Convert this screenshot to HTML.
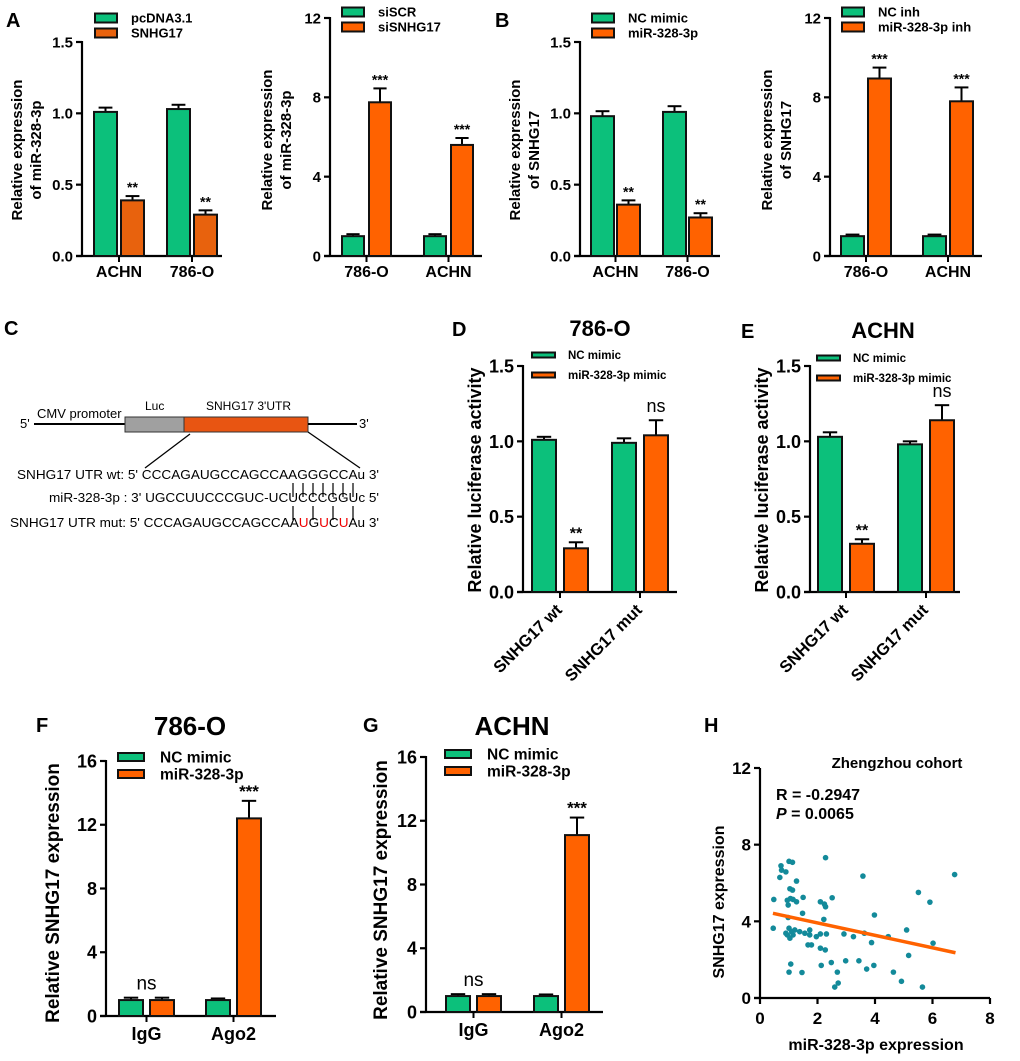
<!DOCTYPE html>
<html><head><meta charset="utf-8"><style>
body{margin:0;background:#fff}
svg{display:block;font-family:"Liberation Sans",Arial,sans-serif}
</style></head><body>
<svg id="fig" width="1020" height="1061" viewBox="0 0 1020 1061">
<g font-weight="bold" font-size="20">
<text x="6" y="27">A</text><text x="495" y="27">B</text><text x="4" y="335">C</text>
<text x="452" y="336">D</text><text x="741" y="338">E</text><text x="36" y="732">F</text>
<text x="363" y="732">G</text><text x="704" y="732">H</text>
</g>
<g id="panelC" font-size="12.5">
<text x="20" y="428" font-size="13">5'</text>
<line x1="34" y1="424" x2="125" y2="424" stroke="#000" stroke-width="2"/>
<text x="37" y="418" font-size="13">CMV promoter</text>
<rect x="125" y="417" width="59" height="15" fill="#a0a0a0" stroke="#333" stroke-width="1"/>
<rect x="184" y="417" width="124" height="15" fill="#e85512" stroke="#333" stroke-width="1"/>
<text x="145" y="410" font-size="12">Luc</text>
<text x="206" y="410" font-size="12">SNHG17 3'UTR</text>
<line x1="308" y1="424" x2="357" y2="424" stroke="#000" stroke-width="2"/>
<text x="359" y="428" font-size="13">3'</text>
<line x1="190" y1="434" x2="145" y2="468" stroke="#000" stroke-width="1.3"/>
<line x1="308" y1="432" x2="360" y2="468" stroke="#000" stroke-width="1.3"/>
<text x="17" y="479" textLength="362" lengthAdjust="spacingAndGlyphs">SNHG17 UTR wt: 5' CCCAGAUGCCAGCCAAGGGCCAu 3'</text>
<text x="49" y="502" textLength="330" lengthAdjust="spacingAndGlyphs">miR-328-3p : 3' UGCCUUCCCGUC-UCUCCCGGUc 5'</text>
<text x="10" y="527" textLength="369" lengthAdjust="spacingAndGlyphs">SNHG17 UTR mut: 5' CCCAGAUGCCAGCCAA<tspan fill="#e00">U</tspan>G<tspan fill="#e00">U</tspan>C<tspan fill="#e00">U</tspan>Au 3'</text>
<g stroke="#000" stroke-width="1.2">
<line x1="293" y1="483" x2="293" y2="497"/><line x1="303" y1="483" x2="303" y2="497"/><line x1="313" y1="483" x2="313" y2="497"/><line x1="323" y1="483" x2="323" y2="497"/><line x1="333" y1="483" x2="333" y2="497"/><line x1="343" y1="483" x2="343" y2="497"/><line x1="353" y1="483" x2="353" y2="497"/>
<line x1="293" y1="506" x2="293" y2="520"/><line x1="313" y1="506" x2="313" y2="520"/><line x1="333" y1="506" x2="333" y2="520"/><line x1="353" y1="506" x2="353" y2="520"/>
</g>
</g>
</svg>
<script>
// ---- data ----
const aCats=["ACHN","786-O"], aCtrl=[1.01,1.03], aTrt=[0.39,0.29], aCtrlErr=[0.03,0.03], aTrtErr=[0.03,0.03], aSig=["**","**"];
const a2Cats=["786-O","ACHN"], a2Ctrl=[1.0,1.0], a2Trt=[7.75,5.6], a2CtrlErr=[0.1,0.1], a2TrtErr=[0.7,0.35], a2Sig=["***","***"];
const bCats=["ACHN","786-O"], bCtrl=[0.98,1.01], bTrt=[0.36,0.27], bCtrlErr=[0.035,0.04], bTrtErr=[0.03,0.03], bSig=["**","**"];
const b2Cats=["786-O","ACHN"], b2Ctrl=[1.0,1.0], b2Trt=[8.95,7.8], b2CtrlErr=[0.08,0.08], b2TrtErr=[0.55,0.7], b2Sig=["***","***"];
const dCats=["SNHG17 wt","SNHG17 mut"], dCtrl=[1.01,0.99], dTrt=[0.29,1.04], dCtrlErr=[0.02,0.03], dTrtErr=[0.04,0.1], dSig=["**","ns"];
const eCats=["SNHG17 wt","SNHG17 mut"], eCtrl=[1.03,0.98], eTrt=[0.32,1.14], eCtrlErr=[0.03,0.02], eTrtErr=[0.03,0.1], eSig=["**","ns"];
const fCats=["IgG","Ago2"], fCtrl=[1.0,1.0], fTrt=[1.0,12.4], fCtrlErr=[0.15,0.1], fTrtErr=[0.15,1.1], fSig=["ns","***"];
const gCats=["IgG","Ago2"], gCtrl=[1.0,1.0], gTrt=[1.0,11.1], gCtrlErr=[0.12,0.1], gTrtErr=[0.12,1.1], gSig=["ns","***"];
const ticks15=["0.0","0.5","1.0","1.5"], ticks12=["0","4","8","12"], ticks16=["0","4","8","12","16"];
const hX=[0.46,0.48,0.73,0.75,0.69,0.9,1.01,1.13,1.27,1.04,1.13,0.95,1.06,1.15,0.98,1.27,1.5,1.48,0.98,0.95,1.04,1.1,1.21,1.38,0.9,1.01,1.15,1.56,1.73,1.73,1.67,1.79,1.96,2.1,2.31,2.1,2.24,2.28,2.22,2.28,2.51,2.1,2.27,2.13,2.48,1.07,1.01,1.46,2.69,2.6,2.72,2.98,2.92,3.25,3.44,3.58,3.63,3.71,3.88,3.98,3.96,4.46,4.64,4.92,5.1,5.17,5.51,5.65,5.91,6.02,6.77];
const hY=[3.64,5.14,6.9,6.67,6.29,6.58,7.13,7.08,6.1,5.7,5.63,5.1,5.19,5.14,4.85,5.02,5.25,4.42,4.2,3.29,3.12,3.46,3.55,3.46,3.38,3.64,3.29,3.38,3.55,3.29,2.77,2.77,3.2,3.34,3.34,5.02,4.9,4.76,4.1,7.32,5.23,2.6,2.51,1.7,1.85,1.77,1.35,1.33,1.35,0.57,0.78,1.94,3.34,3.2,1.94,6.36,3.38,1.51,2.89,4.33,1.7,3.2,1.35,0.87,3.55,2.22,5.51,0.57,5.0,2.86,6.44];
const hLineX=[0.45,6.8], hLineY=[4.42,2.36];
const hTicksX=["0","2","4","6","8"], hTicksY=["0","4","8","12"];

const NS="http://www.w3.org/2000/svg", svg=document.getElementById('fig');
function mk(tag,attrs,parent,txt){const e=document.createElementNS(NS,tag);for(const k in attrs)e.setAttribute(k,attrs[k]);if(txt!==undefined)e.textContent=txt;(parent||svg).appendChild(e);return e;}

function barPanel(P,cats,ctrl,trt,ctrlErr,trtErr,sig,ticks){
  const g=mk('g',{});
  
  
  const ys=v=>P.y0-(v/P.max)*(P.y0-P.yTop);
  const ya=mk('line',{x1:P.ax,y1:P.yTop-1,x2:P.ax,y2:P.y0,stroke:'#000','stroke-width':2.2},g);
  
  
  const xa=mk('line',{x1:P.ax-6,y1:P.y0,x2:P.xEnd,y2:P.y0,stroke:'#000','stroke-width':2.2},g);
  
  
  ticks.forEach((t,i)=>{const v=P.max*i/(ticks.length-1),y=ys(v);
    mk('line',{x1:P.ax-6,y1:y,x2:P.ax,y2:y,stroke:'#000','stroke-width':2.2},g);
    const tl=mk('text',{x:P.ax-9,y:y+P.tf*0.36,'text-anchor':'end','font-size':P.tf,'font-weight':'bold'},g,t);
    
    });
  cats.forEach((c,i)=>{
    const gx=P.x0+i*P.gs, cx=gx+(P.gap+P.bw)/2;
    [[ctrl[i],ctrlErr[i],P.c1,gx],[trt[i],trtErr[i],P.c2,gx+P.gap]].forEach((b,j)=>{
      const y=ys(b[0]),ye=ys(b[0]+b[1]),mx=b[3]+P.bw/2;
      mk('line',{x1:mx,y1:ye,x2:mx,y2:y,stroke:'#000','stroke-width':2},g);
      mk('line',{x1:mx-P.bw*0.3,y1:ye,x2:mx+P.bw*0.3,y2:ye,stroke:'#000','stroke-width':2},g);
      const r=mk('rect',{x:b[3],y:y,width:P.bw,height:P.y0-y,fill:b[2],stroke:'#111','stroke-width':2},g);
      
      
    });
    const isNsG=sig[i]==='ns'&&P.nsOnGroup;
    const mxs=isNsG?cx:gx+P.gap+P.bw/2;
    const tp=isNsG?Math.max(ctrl[i]+ctrlErr[i],trt[i]+trtErr[i]):trt[i]+trtErr[i];
    const st=mk('text',{x:mxs,y:ys(tp)-(sig[i]==='ns'?8:4),'text-anchor':'middle','font-size':sig[i]==='ns'?P.nsf:P.sf,'font-weight':sig[i]==='ns'?'normal':'bold'},g,sig[i]);
    
    
    mk('line',{x1:cx,y1:P.y0,x2:cx,y2:P.y0+6,stroke:'#000','stroke-width':2},g);
    let cl;
    if(P.rot){cl=mk('text',{x:cx+3,y:P.y0+19,'text-anchor':'end','font-size':P.cf,'font-weight':'bold',transform:`rotate(-45 ${cx+3} ${P.y0+19})`},g,c);}
    else cl=mk('text',{x:cx,y:P.y0+P.cf+P.cgap,'text-anchor':'middle','font-size':P.cf,'font-weight':'bold'},g,c);
    
    
  });
  P.yt.forEach((t,k)=>{const x=P.ytx+k*P.ytf*1.25;
    const yt=mk('text',{x:x,y:P.ytc,'text-anchor':'middle','font-size':P.ytf,'font-weight':'bold',transform:`rotate(-90 ${x} ${P.ytc})`},g,t);
    
    });
  P.leg.forEach((t,k)=>{const y=P.ly+k*P.lsp;
    const lg=mk('g',{},g);
    
    
    mk('rect',{x:P.lx,y:y-P.lh/2,width:P.lw,height:P.lh,fill:k?P.c2:P.c1,stroke:'#111','stroke-width':2},lg);
    mk('text',{x:P.lx+P.lw+P.ltg,y:y+P.lf*0.36,'font-size':P.lf,'font-weight':'bold'},lg,t);});
  if(P.title){const tt=mk('text',{x:P.tx,y:P.ty,'text-anchor':'middle','font-size':P.ttf,'font-weight':'bold'},g,P.title);
    
    }
}
const G='#0cc07b',O='#ff6200',O2='#e8620d';
const topCfg={y0:256,tf:15,cf:16,cgap:5,sf:14,nsf:16,ytf:15,lf:13,lh:9,lw:22,ltg:14,lsp:15};
barPanel({...topCfg,name:'panel-a-left',ax:82,yTop:42,max:1.5,xEnd:222,x0:94,bw:23,gap:27,gs:73,c1:G,c2:O2,yt:['Relative expression','of miR-328-3p'],ytx:22,ytc:150,leg:['pcDNA3.1','SNHG17'],lx:95,ly:18},aCats,aCtrl,aTrt,aCtrlErr,aTrtErr,aSig,ticks15);
barPanel({...topCfg,name:'panel-a-right',ax:330,yTop:18,max:12,xEnd:482,x0:342,bw:22,gap:27,gs:82,c1:G,c2:O,yt:['Relative expression','of miR-328-3p'],ytx:272,ytc:140,leg:['siSCR','siSNHG17'],lx:342,ly:12},a2Cats,a2Ctrl,a2Trt,a2CtrlErr,a2TrtErr,a2Sig,ticks12);
barPanel({...topCfg,name:'panel-b-left',ax:580,yTop:42,max:1.5,xEnd:720,x0:591,bw:23,gap:26,gs:72,c1:G,c2:O,yt:['Relative expression','of SNHG17'],ytx:520,ytc:150,leg:['NC mimic','miR-328-3p'],lx:592,ly:18},bCats,bCtrl,bTrt,bCtrlErr,bTrtErr,bSig,ticks15);
barPanel({...topCfg,name:'panel-b-right',ax:830,yTop:18,max:12,xEnd:982,x0:841,bw:23,gap:27,gs:82,c1:G,c2:O,yt:['Relative expression','of SNHG17'],ytx:772,ytc:140,leg:['NC inh','miR-328-3p inh'],lx:842,ly:12},b2Cats,b2Ctrl,b2Trt,b2CtrlErr,b2TrtErr,b2Sig,ticks12);
const midCfg={y0:592,yTop:366,max:1.5,tf:18,cf:16.5,sf:16,nsf:18,ytf:18,lf:11.5,lh:5,lw:23,ltg:13,lsp:20,bw:24,gap:32,gs:80,c1:G,c2:O,rot:true,ttf:22,yt:['Relative luciferase activity'],leg:['NC mimic','miR-328-3p mimic']};
barPanel({...midCfg,name:'panel-d',ax:523,xEnd:677,x0:532,ytx:481,ytc:480,lx:532,ly:355,title:'786-O',tx:600,ty:336},dCats,dCtrl,dTrt,dCtrlErr,dTrtErr,dSig,ticks15);
barPanel({...midCfg,name:'panel-e',ax:810,xEnd:960,x0:818,ytx:768,ytc:480,lx:817,ly:358,title:'ACHN',tx:883,ty:338},eCats,eCtrl,eTrt,eCtrlErr,eTrtErr,eSig,ticks15);
const botCfg={max:16,tf:18,cf:18,cgap:6,sf:17,nsf:19,ytf:19,lf:15.5,lh:8,lw:26,ltg:16,lsp:17,bw:24,gap:31,c1:G,c2:O,nsOnGroup:true,ttf:26,yt:['Relative SNHG17 expression'],leg:['NC mimic','miR-328-3p']};
barPanel({...botCfg,name:'panel-f',ax:106,y0:1016,yTop:761,xEnd:276,x0:119,gs:87,ytx:59,ytc:893,lx:118,ly:757,title:'786-O',tx:190,ty:735},fCats,fCtrl,fTrt,fCtrlErr,fTrtErr,fSig,ticks16);
barPanel({...botCfg,name:'panel-g',ax:426,y0:1012,yTop:757,xEnd:603,x0:446,gs:88,ytx:387,ytc:890,lx:445,ly:754,title:'ACHN',tx:512,ty:735},gCats,gCtrl,gTrt,gCtrlErr,gTrtErr,gSig,ticks16);

(function(){
  const g=mk('g',{});
  
  
  const X0=760,X1=990,Y0=998,Y1=768;
  const xs=v=>X0+v/8*(X1-X0), ys=v=>Y0-v/12*(Y0-Y1);
  mk('line',{x1:X0,y1:Y1,x2:X0,y2:Y0,stroke:'#000','stroke-width':2.2},g);
  mk('line',{x1:X0-6,y1:Y0,x2:X1,y2:Y0,stroke:'#000','stroke-width':2.2},g);
  hTicksY.forEach((t,i)=>{const y=ys(i*4);mk('line',{x1:X0-6,y1:y,x2:X0,y2:y,stroke:'#000','stroke-width':2.2},g);
    const l=mk('text',{x:X0-9,y:y+6,'text-anchor':'end','font-size':17,'font-weight':'bold'},g,t);
    
    });
  hTicksX.forEach((t,i)=>{const x=xs(i*2);mk('line',{x1:x,y1:Y0,x2:x,y2:Y0+6,stroke:'#000','stroke-width':2.2},g);
    const l=mk('text',{x:x,y:Y0+26,'text-anchor':'middle','font-size':17,'font-weight':'bold'},g,t);
    
    });
  hX.forEach((x,i)=>{const c=mk('circle',{cx:xs(x),cy:ys(hY[i]),r:2.8,fill:'#138a9a'},g);
    
    });
  const ln=mk('line',{x1:xs(hLineX[0]),y1:ys(hLineY[0]),x2:xs(hLineX[1]),y2:ys(hLineY[1]),stroke:'#ff6200','stroke-width':3.5},g);
  
  
  const t1=mk('text',{x:897,y:768,'text-anchor':'middle','font-size':15,'font-weight':'bold'},g,'Zhengzhou cohort');
  
  
  const t2=mk('text',{x:776,y:800,'font-size':16,'font-weight':'bold'},g,'R = -0.2947');
  
  
  const t3=mk('text',{x:776,y:819,'font-size':16,'font-weight':'bold'},g);
  
  
  mk('tspan',{'font-style':'italic'},t3,'P');mk('tspan',{},t3,' = 0.0065');
  const yt=mk('text',{x:724,y:902,'text-anchor':'middle','font-size':16,'font-weight':'bold',transform:'rotate(-90 724 902)'},g,'SNHG17 expression');
  
  
  const xt=mk('text',{x:876,y:1050,'text-anchor':'middle','font-size':16,'font-weight':'bold'},g,'miR-328-3p expression');
  
  
})();
</script>
</body></html>
